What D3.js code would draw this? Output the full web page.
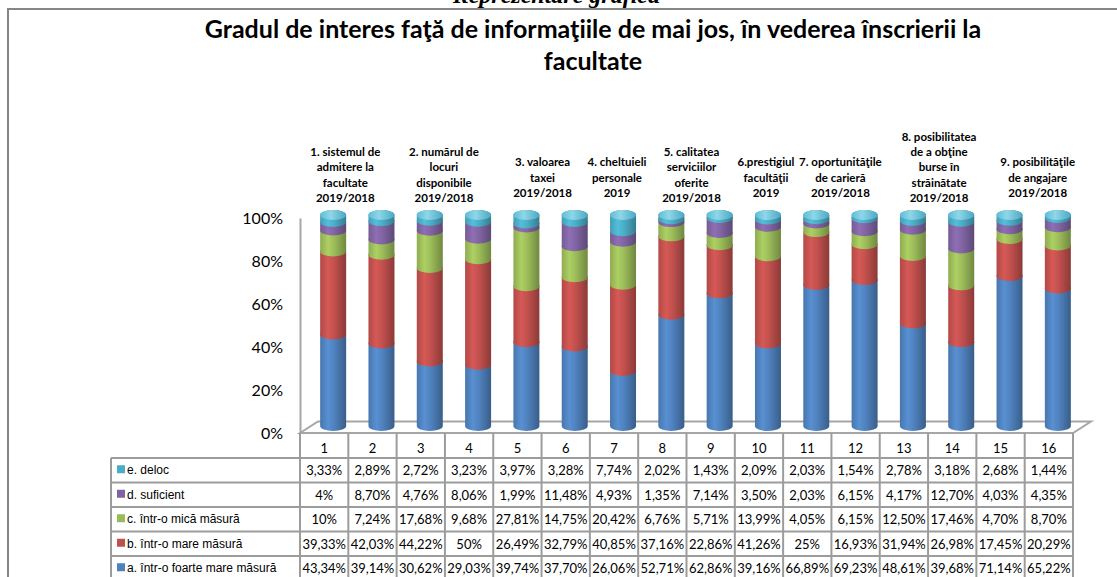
<!DOCTYPE html>
<html>
<head>
<meta charset="utf-8">
<script src="https://cdn.jsdelivr.net/npm/d3@7"></script>
<style>
    body { margin: 0; background: #fff; }
    svg { display: block; }
</style>
</head>
<body>
<div id="root"></div>
<script>
// bars 1..16
var categories = ["1", "2", "3", "4", "5", "6", "7", "8", "9", "10", "11", "12", "13", "14", "15", "16"];
var seriesNames = ["a. într-o foarte mare măsură", "b. într-o  mare măsură", "c. într-o mică  măsură", "d. suficient", "e. deloc"];
var valA = [43.34, 39.14, 30.62, 29.03, 39.74, 37.70, 26.06, 52.71, 62.86, 39.16, 66.89, 69.23, 48.61, 39.68, 71.14, 65.22];
var valB = [39.33, 42.03, 44.22, 50, 26.49, 32.79, 40.85, 37.16, 22.86, 41.26, 25, 16.93, 31.94, 26.98, 17.45, 20.29];
var valC = [10, 7.24, 17.68, 9.68, 27.81, 14.75, 20.42, 6.76, 5.71, 13.99, 4.05, 6.15, 12.50, 17.46, 4.70, 8.70];
var valD = [4, 8.70, 4.76, 8.06, 1.99, 11.48, 4.93, 1.35, 7.14, 3.50, 2.03, 6.15, 4.17, 12.70, 4.03, 4.35];
var valE = [3.33, 2.89, 2.72, 3.23, 3.97, 3.28, 7.74, 2.02, 1.43, 2.09, 2.03, 1.54, 2.78, 3.18, 2.68, 1.44];
var yTicks = [0, 20, 40, 60, 80, 100];
var titleLines = ["Gradul de interes faţă de informaţiile de mai jos, în vederea înscrierii la", "facultate"];
var groupLines = [
    ["1. sistemul de", "admitere la", "facultate", "2019/2018"],
    ["2. numărul de", "locuri", "disponibile", "2019/2018"],
    ["3. valoarea", "taxei", "2019/2018"],
    ["4. cheltuieli", "personale", "2019"],
    ["5. calitatea", "serviciilor", "oferite", "2019/2018"],
    ["6.prestigiul", "facultăţii", "2019"],
    ["7. oportunităţile", "de carieră", "2019/2018"],
    ["8. posibilitatea", "de a obţine", "burse în", "străinătate", "2019/2018"],
    ["9. posibilităţile", "de angajare", "2019/2018"]
];
var groupBars = [["1", "2"], ["3", "4"], ["5", "6"], ["7"], ["8", "9"], ["10"], ["11", "12"], ["13", "14"], ["15", "16"]];

window.onload = function () {
    var width = 1117, height = 577;
    var colors = ["#4F81BD", "#C0504D", "#9BBB59", "#8064A2", "#4BACC6"];
    var allVals = [valA, valB, valC, valD, valE];

    var svg = d3.select("#root").append("svg")
        .attr("width", width)
        .attr("height", height);
    var defs = svg.append("defs");

    // heading of the page, cut by the top edge like in the original
    svg.append("text")
        .attr("x", 660).attr("y", 3)
        .attr("text-anchor", "end")
        .style("font-family", "'Liberation Serif', serif")
        .style("font-weight", "bold").style("font-style", "italic")
        .style("font-size", "24px")
        .text("Reprezentare grafică");

    svg.append("rect")
        .attr("x", 8).attr("y", 9)
        .attr("width", 1300).attr("height", 700)
        .attr("fill", "none")
        .attr("stroke", "#868686")
        .attr("stroke-width", 2);

    svg.append("g").selectAll("text")
        .data(titleLines).enter().append("text")
        .attr("x", 593)
        .attr("y", function (d, i) { return 38 + i * 32; })
        .attr("text-anchor", "middle")
        .style("font-family", "Lato, sans-serif")
        .style("font-weight", "bold")
        .style("font-size", "25px")
        .text(function (d) { return d; });

    // scales
    var x = d3.scaleBand().domain(categories).range([300, 1073]);
    var yAxisScale = d3.scaleLinear().domain([0, 100]).range([433, 218]);
    var yBar = d3.scaleLinear().domain([0, 100]).range([426, 215]);
    var depthX = 18, depthY = -11.5;

    // floor
    var f0 = yAxisScale(0);
    svg.append("path")
        .attr("d", "M" + x.range()[0] + "," + f0 + "L" + (x.range()[0] + depthX) + "," + (f0 + depthY) +
            "L" + (x.range()[1] + depthX) + "," + (f0 + depthY) + "L" + x.range()[1] + "," + f0 + "Z")
        .attr("fill", "#fff")
        .attr("stroke", "#a6a6a6")
        .attr("stroke-width", 2);

    // y axis
    var yAxis = svg.append("g")
        .attr("transform", "translate(300,0)")
        .call(d3.axisLeft(yAxisScale).tickValues(yTicks).tickSize(0).tickSizeOuter(0).tickPadding(17)
            .tickFormat(function (d) { return d + "%"; }));
    yAxis.select(".domain").attr("stroke", "#a6a6a6").attr("stroke-width", 2);
    yAxis.selectAll("text")
        .style("font-family", "Lato, sans-serif")
        .style("font-size", "16px")
        .attr("fill", "#000");

    // gradients for cylinders
    colors.forEach(function (c, i) {
        var g = defs.append("linearGradient")
            .attr("id", "grad" + i)
            .attr("x1", 0).attr("x2", 1).attr("y1", 0).attr("y2", 0);
        g.append("stop").attr("offset", "0%").attr("stop-color", d3.rgb(c).darker(0.25));
        g.append("stop").attr("offset", "30%").attr("stop-color", d3.rgb(c).brighter(0.3));
        g.append("stop").attr("offset", "55%").attr("stop-color", c);
        g.append("stop").attr("offset", "100%").attr("stop-color", d3.rgb(c).darker(0.9));
    });
    var cap = defs.append("linearGradient")
        .attr("id", "capGrad")
        .attr("x1", 0).attr("x2", 1).attr("y1", 0).attr("y2", 0);
    cap.append("stop").attr("offset", "0%").attr("stop-color", "#5fbdd4");
    cap.append("stop").attr("offset", "40%").attr("stop-color", "#8fd6e8");
    cap.append("stop").attr("offset", "100%").attr("stop-color", "#4aa9c2");

    // stacked data
    var table = categories.map(function (c, i) {
        var row = { cat: c };
        allVals.forEach(function (v, k) { row["s" + k] = v[i]; });
        return row;
    });
    var stack = d3.stack().keys(d3.range(5).map(function (k) { return "s" + k; }));
    var stacked = stack(table);

    var rx = 13, ry = 5;
    function segPath(cx, y0, y1) {
        return "M" + (cx - rx) + "," + y1 +
            "L" + (cx - rx) + "," + y0 +
            "A" + rx + "," + ry + " 0 0 0 " + (cx + rx) + "," + y0 +
            "L" + (cx + rx) + "," + y1 +
            "A" + rx + "," + ry + " 0 0 0 " + (cx - rx) + "," + y1 + "Z";
    }
    function barX(cat) { return x(cat) + x.bandwidth() / 2 + depthX / 2; }

    var bars = svg.append("g").attr("class", "bars");
    stacked.forEach(function (layer, k) {
        bars.append("g").selectAll("path")
            .data(layer).enter().append("path")
            .attr("d", function (d) { return segPath(barX(d.data.cat), yBar(d[0]), yBar(d[1])); })
            .attr("fill", "url(#grad" + k + ")");
    });
    var top = stacked[stacked.length - 1];
    bars.append("g").selectAll("ellipse")
        .data(top).enter().append("ellipse")
        .attr("cx", function (d) { return barX(d.data.cat); })
        .attr("cy", function (d) { return yBar(d[1]); })
        .attr("rx", rx).attr("ry", ry)
        .attr("fill", "url(#capGrad)");

    // group labels above the bars
    var labels = svg.append("g");
    groupLines.forEach(function (lines, i) {
        var ids = groupBars[i];
        var cx = d3.mean(ids, function (c) { return x(c) + x.bandwidth() / 2; }) + 2 * i - 3;
        var bottom = lines.length > 3 ? 202 : 197;
        labels.append("text")
            .attr("text-anchor", "middle")
            .style("font-family", "Lato, sans-serif")
            .style("font-weight", "bold")
            .style("font-size", "11.5px")
            .selectAll("tspan").data(lines).enter().append("tspan")
            .attr("x", cx)
            .attr("y", function (d, j) { return bottom - (lines.length - 1 - j) * 15.3; })
            .text(function (d) { return d; });
    });

    // data table
    var tbl = svg.append("g");
    var rowTop = 458, rowH = 24.5, tblLeft = 111;
    var rowOrder = [4, 3, 2, 1, 0];
    var lineColor = "#9c9c9c";
    function fmt(v) {
        return Number.isInteger(v) ? v + "%" : v.toFixed(2).replace(".", ",") + "%";
    }
    var edges = categories.map(function (c) { return x(c); }).concat([x.range()[1]]);
    tbl.selectAll("line.v").data(edges).enter().append("line")
        .attr("x1", function (d) { return d; }).attr("x2", function (d) { return d; })
        .attr("y1", f0).attr("y2", height + 5)
        .attr("stroke", lineColor).attr("stroke-width", 2);
    tbl.append("line")
        .attr("x1", tblLeft).attr("x2", tblLeft)
        .attr("y1", rowTop).attr("y2", height + 5)
        .attr("stroke", lineColor).attr("stroke-width", 2);
    tbl.selectAll("line.h").data(d3.range(6)).enter().append("line")
        .attr("x1", tblLeft).attr("x2", x.range()[1])
        .attr("y1", function (d) { return rowTop + d * rowH; })
        .attr("y2", function (d) { return rowTop + d * rowH; })
        .attr("stroke", lineColor).attr("stroke-width", 2);
    tbl.selectAll("text.h").data(categories).enter().append("text")
        .attr("x", function (d) { return x(d) + x.bandwidth() / 2; })
        .attr("y", f0 + 20)
        .attr("text-anchor", "middle")
        .style("font-family", "Lato, sans-serif")
        .style("font-size", "13px")
        .text(function (d) { return d; });
    rowOrder.forEach(function (k, r) {
        var cy = rowTop + r * rowH + rowH / 2;
        tbl.append("rect")
            .attr("x", 117).attr("y", cy - 5)
            .attr("width", 8).attr("height", 8)
            .attr("fill", colors[k]);
        tbl.append("text")
            .attr("x", 127).attr("y", cy + 4)
            .style("font-family", "'Liberation Sans', Arial, sans-serif")
            .style("font-size", "12px")
            .text(seriesNames[k]);
        tbl.append("g").selectAll("text")
            .data(allVals[k]).enter().append("text")
            .attr("x", function (d, i) { return x(categories[i]) + x.bandwidth() / 2; })
            .attr("y", cy + 5)
            .attr("text-anchor", "middle")
            .style("font-family", "Lato, sans-serif")
            .style("font-size", "13px")
            .text(fmt);
    });
};
</script>
</body>
</html>
